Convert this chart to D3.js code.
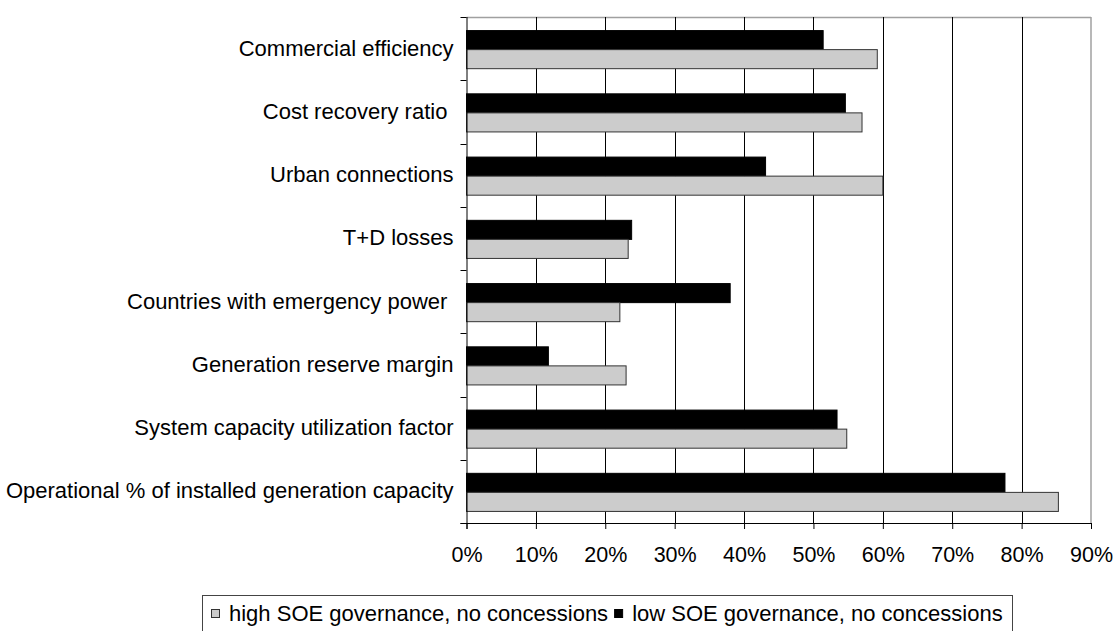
<!DOCTYPE html>
<html>
<head>
<meta charset="utf-8">
<script src="https://cdn.jsdelivr.net/npm/d3@7"></script>
<style>
  html, body { margin: 0; padding: 0; background: #fff; }
  svg { display: block; }
  text { font-family: "Liberation Sans", Arial, sans-serif; fill: #000; }
</style>
</head>
<body>
<svg id="chart" width="1115" height="631"></svg>
<script>
// ---- Data ----
const categories = [
  "Commercial efficiency",
  "Cost recovery ratio ",
  "Urban connections",
  "T+D losses",
  "Countries with emergency power ",
  "Generation reserve margin",
  "System capacity utilization factor",
  "Operational % of installed generation capacity"
];
const seriesNames = ["high SOE governance, no concessions", "low SOE governance, no concessions"];
const highSOE = [59.2, 57.0, 60.0, 23.3, 22.1, 23.0, 54.8, 85.3];
const lowSOE  = [51.4, 54.6, 43.1, 23.8, 38.0, 11.8, 53.4, 77.6];
const xTicks = [0, 10, 20, 30, 40, 50, 60, 70, 80, 90];

(function () {
// ---- Layout ----
const svg = d3.select("#chart");
const pL = 466.5, pR = 1091, pT = 17, pB = 523;

const x = d3.scaleLinear().domain([0, 90]).range([pL, pR]);
const y0 = d3.scaleBand().domain(categories).range([pT, pB]).padding(0);
const y1 = d3.scaleBand().domain(["low", "high"]).range([0, y0.bandwidth()])
  .paddingInner(0).paddingOuter(0.66).align(0.54);

const fills = { high: "#cccccc", low: "#000000" };

// plot border (top & right, gray)
svg.append("line").attr("x1", pL).attr("x2", pR).attr("y1", pT + 0.5).attr("y2", pT + 0.5)
  .attr("stroke", "#a0a0a0").attr("stroke-width", 1.5);
svg.append("line").attr("x1", pR).attr("x2", pR).attr("y1", pT).attr("y2", pB)
  .attr("stroke", "#a0a0a0").attr("stroke-width", 1.5);

// gridlines
svg.append("g").selectAll("line").data(xTicks.filter(t => t > 0 && t < 90)).join("line")
  .attr("x1", d => Math.round(x(d)) + 0.5).attr("x2", d => Math.round(x(d)) + 0.5)
  .attr("y1", pT).attr("y2", pB)
  .attr("stroke", "#000").attr("stroke-width", 1);

// bars
const data = categories.map((c, i) => ({ cat: c, high: highSOE[i], low: lowSOE[i] }));
const g = svg.append("g");
data.forEach(d => {
  ["low", "high"].forEach(k => {
    g.append("rect")
      .attr("x", x(0))
      .attr("y", y0(d.cat) + y1(k))
      .attr("width", x(d[k]) - x(0))
      .attr("height", y1.bandwidth())
      .attr("fill", fills[k])
      .attr("stroke", k === "high" ? "#333" : "#000")
      .attr("stroke-width", 1);
  });
});

// x axis
const xAxis = d3.axisBottom(x).tickValues(xTicks).tickFormat(d => d + "%").tickSize(6).tickSizeOuter(0);
const gx = svg.append("g").attr("transform", `translate(0,${pB})`).call(xAxis);
gx.select(".domain").attr("stroke", "#000").attr("d", `M${pL - 6},0.5H${pR}`);
gx.selectAll(".tick line").attr("stroke", "#000");
gx.selectAll(".tick text").attr("dy", 0).attr("y", 39)
  .style("font-family", "'Liberation Sans', Arial, sans-serif").style("font-size", "21.5px").attr("fill", "#000");

// y axis
const yAxis = d3.axisLeft(y0).tickSize(0).tickSizeOuter(0).tickPadding(13);
const gy = svg.append("g").attr("transform", `translate(${pL},0)`).call(yAxis);
gy.select(".domain").attr("stroke", "#000").attr("d", `M0.5,${pT}V${pB + 6}`);
gy.selectAll(".tick text")
  .style("font-family", "'Liberation Sans', Arial, sans-serif").style("font-size", "22px")
  .style("white-space", "pre").attr("fill", "#000").attr("dy", "0.32em");
// category boundary ticks
const bounds = categories.map(c => y0(c)).concat([pB]);
svg.append("g").selectAll("line").data(bounds).join("line")
  .attr("x1", pL - 6).attr("x2", pL).attr("y1", d => Math.round(d) + 0.5).attr("y2", d => Math.round(d) + 0.5)
  .attr("stroke", "#000");

// legend
const lg = svg.append("g");
lg.append("rect").attr("x", 202.5).attr("y", 595.5).attr("width", 810).attr("height", 60)
  .attr("fill", "#fff").attr("stroke", "#444").attr("stroke-width", 1);
const items = [
  { name: seriesNames[0], key: "high" },
  { name: seriesNames[1], key: "low" }
];
let cx = 211;
items.forEach(it => {
  lg.append("rect").attr("x", cx + 0.5).attr("y", 609.5).attr("width", 8).attr("height", 8)
    .attr("fill", fills[it.key]).attr("stroke", it.key === "high" ? "#333" : "#000");
  const t = lg.append("text").attr("x", cx + 18).attr("y", 621)
    .style("font-size", "22px").text(it.name);
  cx = cx + 18 + t.node().getComputedTextLength() + 6;
});
})();
</script>
</body>
</html>
